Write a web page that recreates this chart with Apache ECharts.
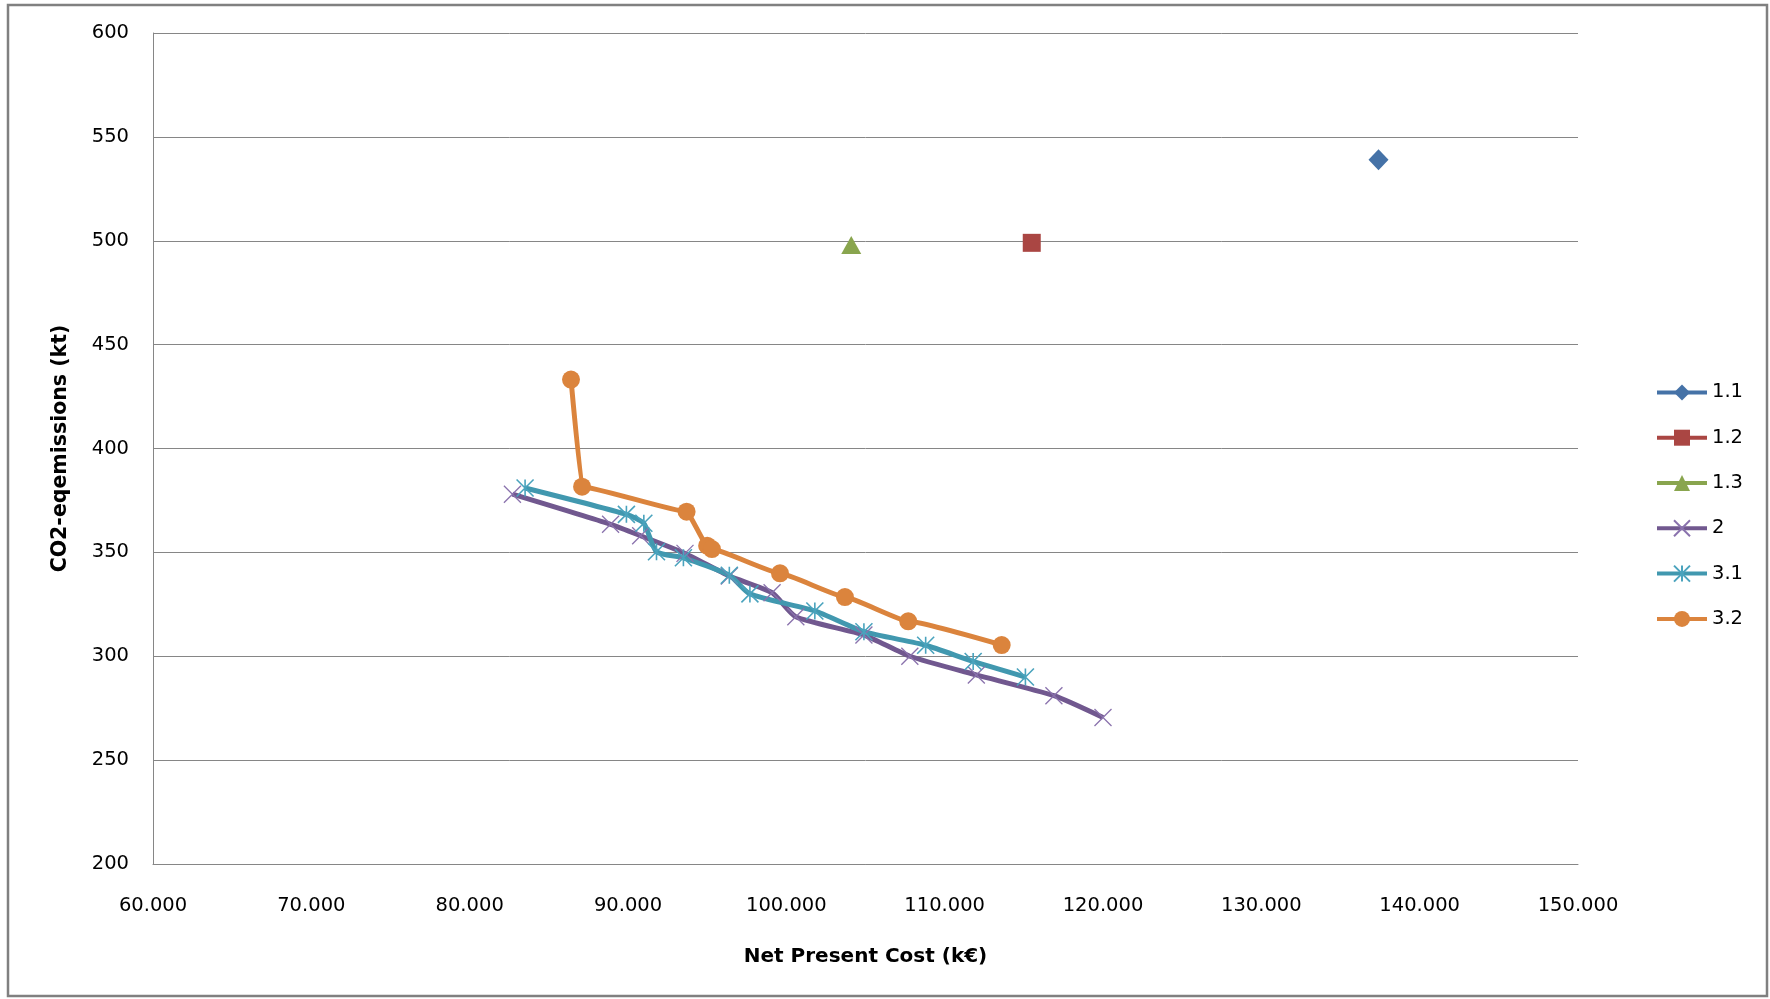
<!DOCTYPE html>
<html>
<head>
<meta charset="utf-8">
<script src="https://cdn.jsdelivr.net/npm/echarts@6/dist/echarts.min.js"></script>
<style>
html,body{margin:0;padding:0;background:#fff;}
#chart{width:1770px;height:999px;}
</style>
</head>
<body>
<div id="chart"></div>
<script>
// Tick settings
const xTicks = { min: 60000, max: 150000, interval: 10000 };
const yTicks = { min: 200, max: 600, interval: 50 };

// Series names
const seriesNames = ['1.1', '1.2', '1.3', '2', '3.1', '3.2'];

// Series values: [Net Present Cost (k€), CO2-eq emissions (kt)]
const s11 = [[137400, 539]];
const s12 = [[115500, 499]];
const s13 = [[104100, 498]];
const s2 = [
  [82700, 378], [88900, 363.5], [90800, 358], [93600, 349.5], [96400, 338.6],
  [99100, 330.6], [100600, 319], [104900, 310.2], [107800, 300], [112000, 291],
  [116900, 281], [120000, 270.5]
];
const s31 = [
  [83500, 381], [89900, 368.3], [91000, 364], [91800, 350.3], [93500, 347.4],
  [96400, 339], [97700, 330], [101800, 321.8], [104900, 311.8], [108800, 305.3],
  [111800, 297.5], [115100, 290]
];
const s32 = [
  [86400, 433.2], [87100, 381.6], [93700, 369.6], [95000, 353.2], [95300, 351.6],
  [99600, 339.9], [103700, 328.5], [107700, 316.8], [113600, 305.4]
];

const colors = ['#4572A7', '#AA4643', '#89A54E', '#71588F', '#4198AF', '#DB843D'];
const FONT = 'DejaVu Sans';

function fmtX(v) {
  const s = String(Math.round(v));
  return s.replace(/\B(?=(\d{3})+(?!\d))/g, '.');
}

const xSym = 'path://M0,0L10,10M10,0L0,10';
const starSym = 'path://M0,0L10,10M10,0L0,10M5,0L5,10';

function lineSeries(name, data, color, symbol, size, extra) {
  return Object.assign({
    name: name,
    type: 'line',
    data: data,
    symbol: symbol,
    symbolSize: size,
    smooth: 0.2,
    lineStyle: { color: color, width: 5 },
    itemStyle: { color: color },
    emphasis: { disabled: true },
    z: 2
  }, extra || {});
}

const chart = echarts.init(document.getElementById('chart'), null, { renderer: 'canvas' });
chart.setOption({
  animation: false,
  backgroundColor: '#ffffff',
  color: colors,
  textStyle: { fontFamily: FONT },
  graphic: [{
    type: 'rect',
    shape: { x: 8, y: 5, width: 1759, height: 991 },
    style: { fill: 'none', stroke: '#808080', lineWidth: 2.5 },
    silent: true
  }],
  grid: { left: 153, top: 33, right: 192, bottom: 135 },
  xAxis: {
    type: 'value',
    min: xTicks.min, max: xTicks.max, interval: xTicks.interval,
    name: 'Net Present Cost (k€)',
    nameLocation: 'middle',
    nameGap: 83,
    nameTextStyle: { fontFamily: FONT, fontSize: 20, fontWeight: 'bold', color: '#000' },
    axisLine: { show: true, lineStyle: { color: '#868686', width: 1 } },
    axisTick: { show: false },
    splitLine: { show: false },
    axisLabel: { formatter: function (v) { return fmtX(v); }, fontFamily: FONT, fontSize: 19.5, color: '#000', margin: 32 }
  },
  yAxis: {
    type: 'value',
    min: yTicks.min, max: yTicks.max, interval: yTicks.interval,
    name: 'CO2-eqemissions (kt)',
    nameLocation: 'middle',
    nameGap: 82,
    nameRotate: 90,
    nameTextStyle: { fontFamily: FONT, fontSize: 20.5, fontWeight: 'bold', color: '#000' },
    axisLine: { show: true, lineStyle: { color: '#868686', width: 1 } },
    axisTick: { show: false },
    splitLine: { show: true, lineStyle: { color: '#868686', width: 1 } },
    axisLabel: { fontFamily: FONT, fontSize: 19.5, color: '#000', margin: 24 }
  },
  legend: {
    orient: 'vertical',
    left: 1650,
    top: 377.4,
    itemWidth: 50,
    itemHeight: 20,
    itemGap: 25.3,
    lineStyle: { width: 4 },
    textStyle: { fontFamily: FONT, fontSize: 19.5, color: '#000' },
    data: seriesNames
  },
  series: [
    lineSeries(seriesNames[0], s11, colors[0], 'diamond', [20, 21]),
    lineSeries(seriesNames[1], s12, colors[1], 'rect', 18),
    lineSeries(seriesNames[2], s13, colors[2], 'triangle', [20, 18]),
    lineSeries(seriesNames[3], s2, colors[3], xSym, 17, {
      itemStyle: { color: 'rgba(0,0,0,0)', borderColor: '#8a72ad', borderWidth: 1.3 }
    }),
    lineSeries(seriesNames[4], s31, colors[4], starSym, 17, {
      itemStyle: { color: 'rgba(0,0,0,0)', borderColor: '#4aa3bd', borderWidth: 1.6 }
    }),
    lineSeries(seriesNames[5], s32, colors[5], 'circle', 18, {
      smooth: 0.12,
      smoothMonotone: 'x'
    })
  ]
});
</script>
</body>
</html>
